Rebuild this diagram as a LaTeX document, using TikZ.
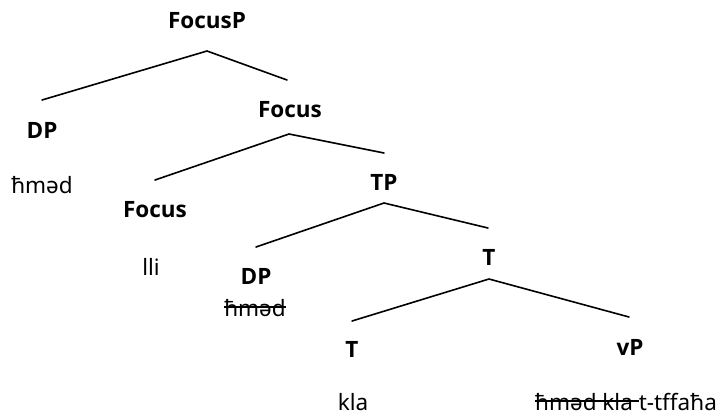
\documentclass[tikz,border=0pt]{standalone}
\usepackage{fontspec}
\setmainfont{Open Sans}
\newfontfamily\ipafont{Noto Sans}
\newcommand{\strk}[1]{\setbox0=\hbox{#1}\rlap{\rule[0.36em]{\wd0}{0.07em}}\box0}
\begin{document}
\begin{tikzpicture}[x=1pt,y=-1pt,
  lab/.style={font=\fontsize{22.5}{27}\selectfont\bfseries, anchor=base, inner sep=0pt},
  word/.style={font=\fontsize{22.5}{27}\selectfont\ipafont, anchor=base, inner sep=0pt},
  edge/.style={line width=1.6pt, line cap=round}]
\useasboundingbox (0,0) rectangle (722,416);
% labels
\node[lab] (focusp) at (207,28) {FocusP};
\node[lab] (dp1) at (42,138) {DP};
\node[word] (w1) at (42,193) {ħməd};
\node[lab] (focus1) at (290,117) {Focus};
\node[lab] (focus2) at (155,217) {Focus};
\node[word] (w2) at (151,275) {lli};
\node[lab] (tp) at (384,190) {TP};
\node[lab] (dp2) at (256,284) {DP};
\node[word] (w3) at (255,316) {\strk{ħməd}};
\node[lab] (t1) at (489,265) {T};
\node[lab] (t2) at (352,357) {T};
\node[word] (w4) at (353,410) {kla};
\node[lab] (vp) at (630,355) {vP};
\node[word] (w5) at (626,410) {\strk{ħməd kla }t-tffaħa};
% branch points
\coordinate (a1) at (207,51);  \coordinate (l1) at (42,100);  \coordinate (r1) at (287,80);
\coordinate (a2) at (289,134); \coordinate (l2) at (155,180); \coordinate (r2) at (384,153);
\coordinate (a3) at (384,203); \coordinate (l3) at (256,247); \coordinate (r3) at (488,228);
\coordinate (a4) at (489,279); \coordinate (l4) at (352,321); \coordinate (r4) at (629,317);
\draw[edge] (l1) -- (a1) -- (r1);
\draw[edge] (l2) -- (a2) -- (r2);
\draw[edge] (l3) -- (a3) -- (r3);
\draw[edge] (l4) -- (a4) -- (r4);
\end{tikzpicture}
\end{document}
